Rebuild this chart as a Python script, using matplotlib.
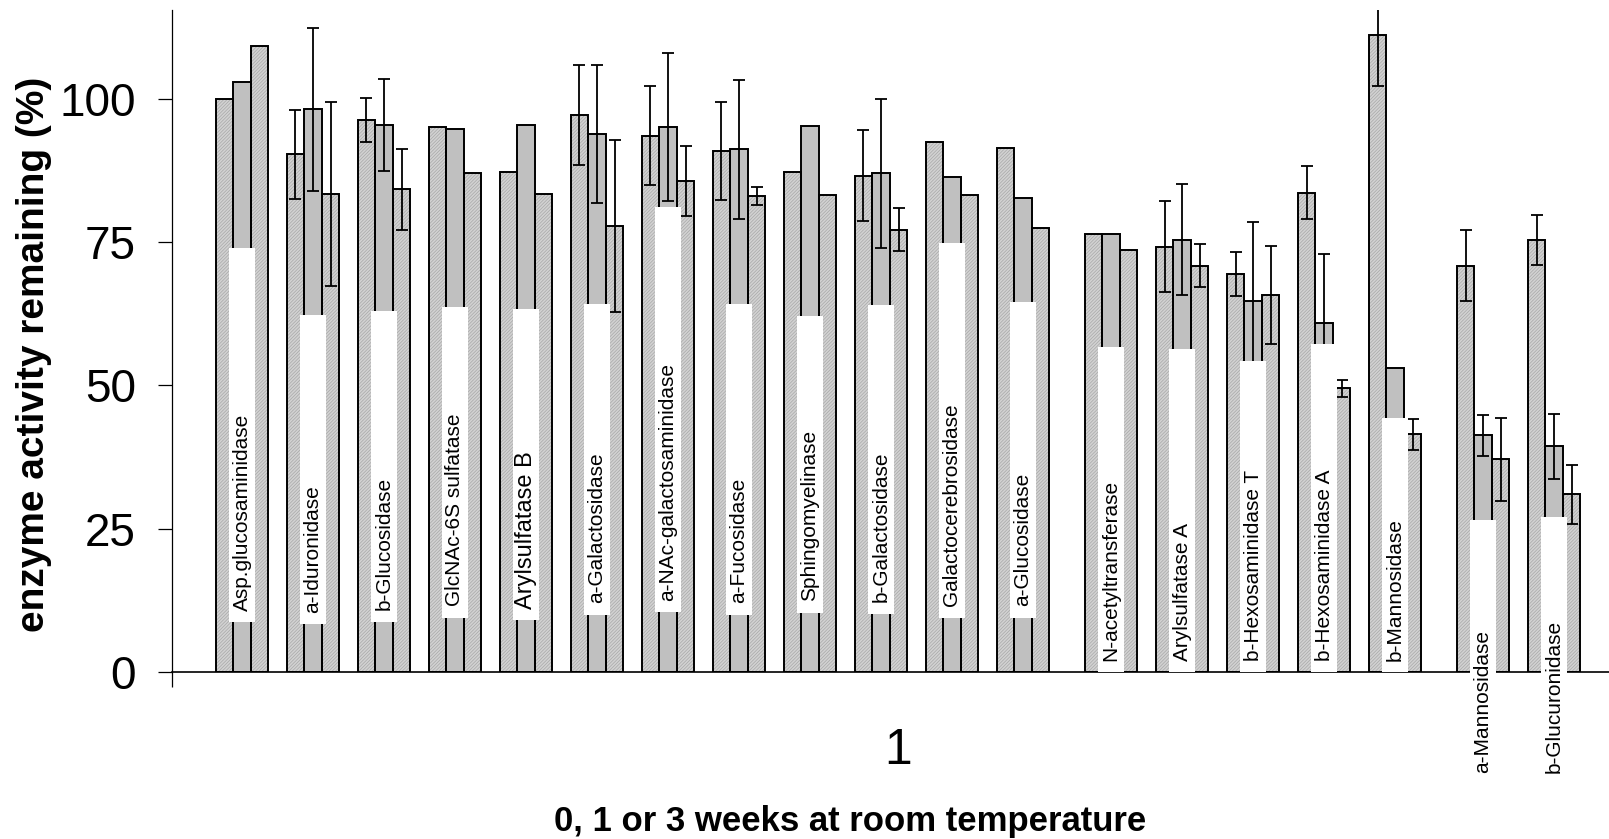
import numpy as np
import matplotlib.pyplot as plt

plt.rcParams['font.family'] = ['Liberation Sans', 'DejaVu Sans']
plt.rcParams['hatch.linewidth'] = 0.5

enzymes = ['Asp.glucosaminidase', 'a-Iduronidase', 'b-Glucosidase', 'GlcNAc-6S sulfatase',
           'Arylsulfatase B', 'a-Galactosidase', 'a-NAc-galactosaminidase', 'a-Fucosidase',
           'Sphingomyelinase', 'b-Galactosidase', 'Galactocerebrosidase', 'a-Glucosidase',
           'N-acetyltransferase', 'Arylsulfatase A', 'b-Hexosaminidase T', 'b-Hexosaminidase A',
           'b-Mannosidase', 'a-Mannosidase', 'b-Glucuronidase']

# % activity left after 0, 1 and 3 weeks at room temperature
week0 = [100.0, 90.3, 96.3, 95.1, 87.3, 97.2, 93.6, 90.9, 87.3, 86.6,
         92.4, 91.4, 76.4, 74.2, 69.4, 83.6, 111.2, 70.9, 75.4]
week1 = [103.0, 98.2, 95.4, 94.8, 95.4, 93.9, 95.1, 91.2, 95.3, 87.0,
         86.3, 82.7, 76.4, 75.4, 64.8, 60.9, 53.1, 41.3, 39.4]
week3 = [109.3, 83.4, 84.2, 87.0, 83.4, 77.8, 85.7, 83.0, 83.3, 77.2,
         83.3, 77.5, 73.6, 70.9, 65.8, 49.5, 41.5, 37.1, 31.0]

# SD, 0 = not measured
err0 = [0, 7.8, 3.8, 0, 0, 8.7, 8.7, 8.5, 0, 7.9, 0, 0, 0, 7.9, 3.8, 4.6, 8.9, 6.2, 4.4]
err1 = [0, 14.2, 8.0, 0, 0, 12.0, 12.9, 12.1, 0, 13.0, 0, 0, 0, 9.7, 13.7, 12.1, 0, 3.6, 5.7]
err3 = [0, 16.0, 7.0, 0, 0, 15.0, 6.1, 1.6, 0, 3.8, 0, 0, 0, 3.8, 8.6, 1.5, 2.7, 7.3, 5.1]

# white label boxes behind the enzyme names
label_top = [74.0, 62.2, 63.0, 63.7, 63.4, 64.2, 81.2, 64.2, 62.1, 64.0,
             74.9, 64.6, 56.7, 56.4, 54.3, 57.3, 44.3, 26.5, 27.0]
label_bottom = [8.7, 8.3, 8.8, 9.5, 9.0, 10.0, 10.4, 10.0, 10.35, 10.2,
                9.5, 9.5, 0, 0, 0, 0, 0, -19.6, -19.6]
label_size = [15, 15, 15, 15, 17, 15, 15, 15, 15, 15,
              15, 15, 15, 15, 15, 15, 15, 15, 15]

# enzymes are plotted in three blocks with a wider gap between them
block = np.array([0] * 12 + [1] * 5 + [2] * 2)
x = np.arange(len(enzymes)) + 0.24 * block
w = 0.247

fig = plt.figure(figsize=(16.09, 8.39), dpi=100)
ax = fig.add_axes([172 / 1609, 167 / 839, 1437 / 1609, 662 / 839])

series = [(week0, err0, x - w, True), (week1, err1, x, False), (week3, err3, x + w, True)]
for vals, err, xs, hatched in series:
    if hatched:
        ax.bar(xs, vals, w, color='#d2d2d2', edgecolor='#a8a8a8', hatch='//////////',
               linewidth=0, zorder=2)
    else:
        ax.bar(xs, vals, w, color='#c0c0c0', linewidth=0, zorder=2)
    ax.bar(xs, vals, w, fill=False, edgecolor='black', linewidth=1.4, zorder=2.2)
    e = np.array(err, dtype=float)
    e[e == 0] = np.nan
    ax.errorbar(xs, vals, yerr=e, fmt='none', ecolor='black', elinewidth=1.3,
                capsize=4.3, capthick=1.3, zorder=2.5)

lb = np.array(label_bottom)
ax.bar(x, np.array(label_top) - lb, 0.36, bottom=lb, color='white', linewidth=0,
       zorder=4, clip_on=False)
for xi, name, b, fs in zip(x, enzymes, lb, label_size):
    ax.text(xi, b + 2.0, name, rotation=90, ha='center', va='bottom', fontsize=fs,
            zorder=5, clip_on=False)

ax.set_xlim((172 - 242) / 71, (1609 - 242) / 71)
ax.set_ylim(0, 115.5)

ax.set_yticks([0, 25, 50, 75, 100])
ax.set_yticklabels(['0', '25', '50', '75', '100'], fontsize=33)
ax.tick_params(axis='y', direction='out', length=10, width=0.9, pad=16)

mid = (x[0] - 1.5 * w + x[-1] + 1.5 * w) / 2
ax.set_xticks([mid])
ax.set_xticklabels(['1'], fontsize=36)
ax.tick_params(axis='x', which='major', length=0, pad=40)
ax.set_xticks([ax.get_xlim()[0]], minor=True)
ax.tick_params(axis='x', which='minor', direction='out', length=11, width=0.9)

for s in ['top', 'right']:
    ax.spines[s].set_visible(False)
ax.spines['left'].set_linewidth(0.9)
ax.spines['bottom'].set_linewidth(1.2)

ax.set_ylabel('enzyme activity remaining (%)', fontsize=28, fontweight='bold', va='center')
ax.yaxis.set_label_coords((34 - 172) / 1437, (672 - 354) / 662)
ax.set_xlabel('0, 1 or 3 weeks at room temperature', fontsize=25, fontweight='bold',
              va='center')
ax.xaxis.set_label_coords((850 - 172) / 1437, (672 - 821) / 662)

fig.savefig('out.png', dpi=100)
